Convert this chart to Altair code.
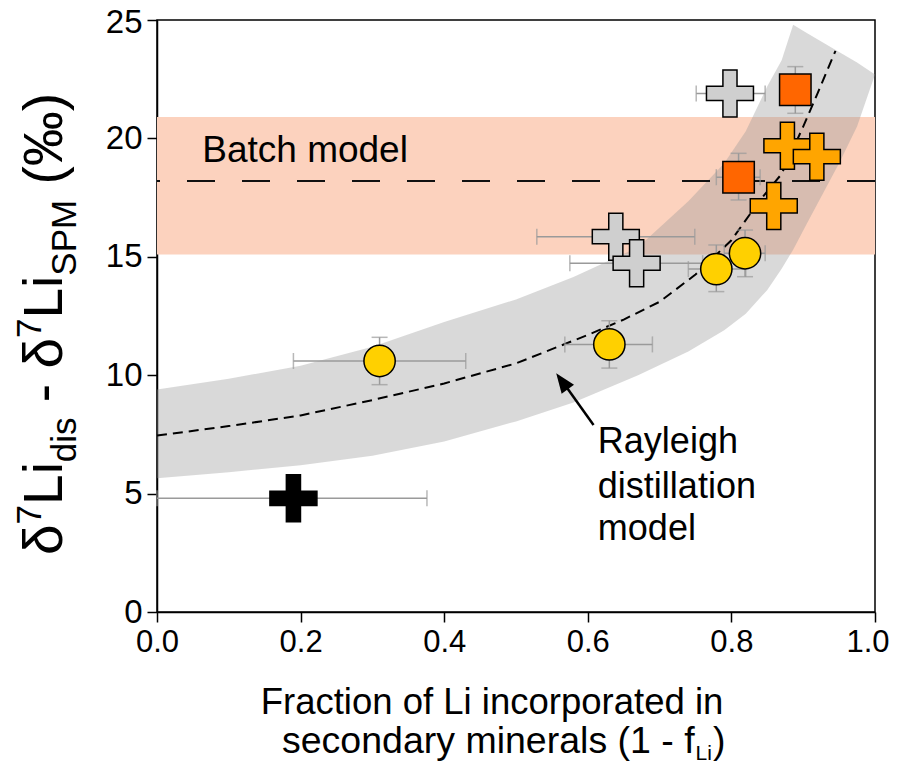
import altair as alt
import pandas as pd

# ---------------- data ----------------
# data points (x = fraction of Li in secondary minerals, y = d7Li_dis - d7Li_SPM)
pt_x = [0.19, 0.31, 0.63, 0.639, 0.668, 0.819, 0.779, 0.798, 0.889, 0.81, 0.859, 0.878, 0.919]
pt_y = [4.8, 10.6, 11.3, 15.85, 14.73, 15.15, 14.48, 21.9, 22.05, 18.36, 17.15, 19.69, 19.23]
pt_shape = ["cross", "circle", "circle", "cross", "cross", "circle", "circle",
            "cross", "square", "square", "cross", "cross", "cross"]
pt_group = ["black", "yellow", "yellow", "grey", "grey", "yellow", "yellow",
            "grey", "red", "red", "orange", "orange", "orange"]
x_lo = [0.0, 0.19, 0.568, 0.529, 0.575, 0.79, 0.74, 0.751, None, 0.779, None, None, None]
x_hi = [0.376, 0.43, 0.69, 0.749, 0.76, 0.847, 0.82, 0.847, None, 0.84, None, None, None]
y_lo = [None, 9.6, 10.3, None, None, 14.16, 13.53, None, 21.06, 17.4, None, None, None]
y_hi = [None, 11.6, 12.3, None, None, 16.13, 15.5, None, 23.03, 19.37, None, None, None]

# batch model band and value
batch_lo = 15.1
batch_hi = 20.9
batch_val = 18.2

# Rayleigh model envelope (grey band)
band_x = [0.0, 0.1, 0.2, 0.3, 0.4, 0.5, 0.58, 0.67, 0.74, 0.79, 0.82, 0.85, 0.87, 0.886,
          0.905, 0.95, 0.975, 1.0]
band_lo = [5.65, 5.9, 6.2, 6.6, 7.2, 8.05, 8.85, 10.0, 11.0, 11.9, 12.6, 13.6, 14.5, 15.3,
           16.4, 18.95, 20.5, 22.7]
band_hi = [9.4, 9.85, 10.4, 11.2, 12.25, 13.2, 14.15, 15.4, 17.35, 18.95, 20.3, 22.2, 23.3, 24.8,
           24.45, 23.65, 23.2, 22.7]

# Rayleigh model curve (dashed)
ray_x = [0.0, 0.1, 0.2, 0.3, 0.4, 0.5, 0.55, 0.6, 0.65, 0.7, 0.75, 0.8, 0.84, 0.87, 0.9, 0.92, 0.945]
ray_y = [7.45, 7.85, 8.3, 8.95, 9.65, 10.5, 11.1, 11.7, 12.35, 13.1, 14.25, 15.7, 17.4, 18.5,
         20.5, 21.9, 23.7]

x_ticks = [0.0, 0.2, 0.4, 0.6, 0.8, 1.0]
y_ticks = [0, 5, 10, 15, 20, 25]

# ---------------- styles ----------------
FONT = "Liberation Sans"
CROSS = "M-0.3,-1H0.3V-0.3H1V0.3H0.3V1H-0.3V0.3H-1V-0.3H-0.3Z"
shape_path = {"cross": CROSS, "circle": "circle", "square": "square"}
shape_size = {"cross": 2209, "circle": 980, "square": 990}
group_fill = {"black": "#000000", "yellow": "#FFD000", "grey": "#CFCFCF",
              "red": "#FF6600", "orange": "#FFA500"}

xs = alt.Scale(domain=[0, 1], nice=False, zero=False)
ys = alt.Scale(domain=[0, 25], nice=False, zero=False)
AXX = alt.Axis(values=x_ticks, format=".1f", title=None,
               labelAlign={"expr": "datum.value >= 1 ? 'right' : 'center'"},
               labelOffset={"expr": "datum.value >= 1 ? 14 : 0"})
AXY = alt.Axis(values=y_ticks, format="d", title=None,
               labelOffset={"expr": "datum.value >= 25 ? 2 : 0"})

pts = pd.DataFrame({"x": pt_x, "y": pt_y, "shape": pt_shape, "group": pt_group,
                    "xlo": x_lo, "xhi": x_hi, "ylo": y_lo, "yhi": y_hi})
pts["path"] = pts["shape"].map(shape_path)
pts["size"] = pts["shape"].map(shape_size)
pts["fill"] = pts["group"].map(group_fill)
pts["order"] = range(len(pts))

hx = pts.dropna(subset=["xlo"])
hy = pts.dropna(subset=["ylo"])


def X(f):
    return alt.X(f, type="quantitative", scale=xs, axis=AXX)


def Y(f):
    return alt.Y(f, type="quantitative", scale=ys, axis=AXY)


def XD(v):
    return alt.XDatum(v, type="quantitative", scale=xs, axis=AXX)


def YD(v):
    return alt.YDatum(v, type="quantitative", scale=ys, axis=AXY)


# salmon batch band
batch_df = pd.DataFrame({"x0": [0.0], "x1": [1.0], "lo": [batch_lo], "hi": [batch_hi]})
salmon = alt.Chart(batch_df).mark_rect(color="#FCD2BE").encode(
    x=X("x0"), x2="x1", y=Y("lo"), y2="hi")

band_df = pd.DataFrame({"x": band_x, "lo": band_lo, "hi": band_hi})
band = alt.Chart(band_df).mark_area(color="#999999", opacity=0.37).encode(
    x=X("x"), y=Y("lo"), y2="hi")

batch_line = alt.Chart(pd.DataFrame({"v": [batch_val]})).mark_rule(
    color="#111111", strokeWidth=2, strokeDash=[28, 27]).encode(y=Y("v"))

ray_df = pd.DataFrame({"x": ray_x, "y": ray_y})
ray = alt.Chart(ray_df).mark_line(color="black", strokeWidth=2, strokeDash=[10, 6]).encode(
    x=X("x"), y=Y("y"))

ERR = "#9a9a9a"
hbar = alt.Chart(hx).mark_rule(color=ERR, strokeWidth=1.5).encode(x=X("xlo"), x2="xhi", y=Y("y"))
hcap1 = alt.Chart(hx).mark_tick(color=ERR, thickness=1.5, size=16, orient="vertical").encode(
    x=X("xlo"), y=Y("y"))
hcap2 = alt.Chart(hx).mark_tick(color=ERR, thickness=1.5, size=16, orient="vertical").encode(
    x=X("xhi"), y=Y("y"))
vbar = alt.Chart(hy).mark_rule(color=ERR, strokeWidth=1.5).encode(x=X("x"), y=Y("ylo"), y2="yhi")
vcap1 = alt.Chart(hy).mark_tick(color=ERR, thickness=1.5, size=16, orient="horizontal").encode(
    x=X("x"), y=Y("ylo"))
vcap2 = alt.Chart(hy).mark_tick(color=ERR, thickness=1.5, size=16, orient="horizontal").encode(
    x=X("x"), y=Y("yhi"))

points = alt.Chart(pts).mark_point(filled=True, stroke="black", strokeWidth=1.5, opacity=1).encode(
    x=X("x"), y=Y("y"),
    shape=alt.Shape("path:N", scale=None),
    fill=alt.Fill("fill:N", scale=None),
    size=alt.Size("size:Q", scale=None),
    order=alt.Order("order:Q"),
)

one = alt.Data(values=[{"a": 1}])


def dtext(s, x, y, size, align="left"):
    return alt.Chart(one).mark_text(text=s, font=FONT, fontSize=size, align=align,
                                    baseline="alphabetic", color="black").encode(
        x=XD(x), y=YD(y))


def ptext(s, px, py, size, angle=0, align="left"):
    return alt.Chart(one).mark_text(text=s, font=FONT, fontSize=size, align=align, angle=angle,
                                    baseline="alphabetic", color="black").encode(
        x=alt.value(px), y=alt.value(py))


annot = [
    dtext("Batch model", 0.063, 19.0, 37),
    dtext("Rayleigh", 0.614, 6.72, 36),
    dtext("distillation", 0.614, 4.82, 36),
    dtext("model", 0.614, 3.05, 36),
]

# arrow
arrow_line = alt.Chart(one).mark_rule(color="black", strokeWidth=2.5).encode(
    x=XD(0.608), y=YD(7.9), x2=alt.X2Datum(0.562), y2=alt.Y2Datum(9.85))
arrow_head = alt.Chart(one).mark_point(shape="M0,0L0.85,2.2L-0.85,2.2Z", filled=True, color="black",
                                       opacity=1, size=324, angle=324).encode(
    x=XD(0.556), y=YD(10.08))

# y title pieces (rotated), positions relative to plot origin
S, s = 55, 35
bx, subx, supx = -95, -81, -116
ylayers = []
cur = 535
ylayers.append(ptext("δ", bx, cur, S, angle=270)); cur -= 0.556 * S
ylayers.append(ptext("7", supx, cur, s, angle=270)); cur -= 0.556 * s
ylayers.append(ptext("Li", bx, cur, S, angle=270)); cur -= 0.778 * S
ylayers.append(ptext("dis", subx, cur, s, angle=270)); cur -= 1.278 * s + 0.278 * S
ylayers.append(ptext("-", bx, cur, S, angle=270)); cur -= 0.611 * S
ylayers.append(ptext("δ", bx, cur, S, angle=270)); cur -= 0.556 * S
ylayers.append(ptext("7", supx, cur, s, angle=270)); cur -= 0.556 * s
ylayers.append(ptext("Li", bx, cur, S, angle=270)); cur -= 0.778 * S
ylayers.append(ptext("SPM", subx, cur, s, angle=270)); cur -= 2.167 * s + 0.278 * S
ylayers.append(ptext("(‰)", bx, cur, S, angle=270))

# x title
L2 = 37.5
x2start = 125
xlayers = [
    ptext("Fraction of Li incorporated in", 335, 694, 36.5, align="center"),
    ptext("secondary minerals (1 - f", x2start, 733, L2),
    ptext("Li", x2start + 11.003 * L2 + 1, 740, 21),
    ptext(")", x2start + 11.003 * L2 + 0.778 * 21 + 2, 733, L2),
]

chart = alt.layer(
    salmon, band, batch_line, ray, hbar, hcap1, hcap2, vbar, vcap1, vcap2, points,
    *annot, arrow_line, arrow_head, *ylayers, *xlayers
).properties(
    width=718, height=592,
    autosize=alt.AutoSizeParams(type="none"),
    padding={"left": 149, "top": 12, "right": 15, "bottom": 152},
).configure_view(
    stroke="black", strokeWidth=1.5
).configure_axis(
    labelFont=FONT, labelColor="black", tickColor="black", domainColor="black",
    domainWidth=1.5, tickWidth=1.5, tickSize=10, grid=False, labelPadding=5,
    labelFlush=False, labelOverlap=False,
).configure_axisX(labelFontSize=31).configure_axisY(labelFontSize=33)

chart.save("out.html", embed_options={"renderer": "svg", "actions": False})
